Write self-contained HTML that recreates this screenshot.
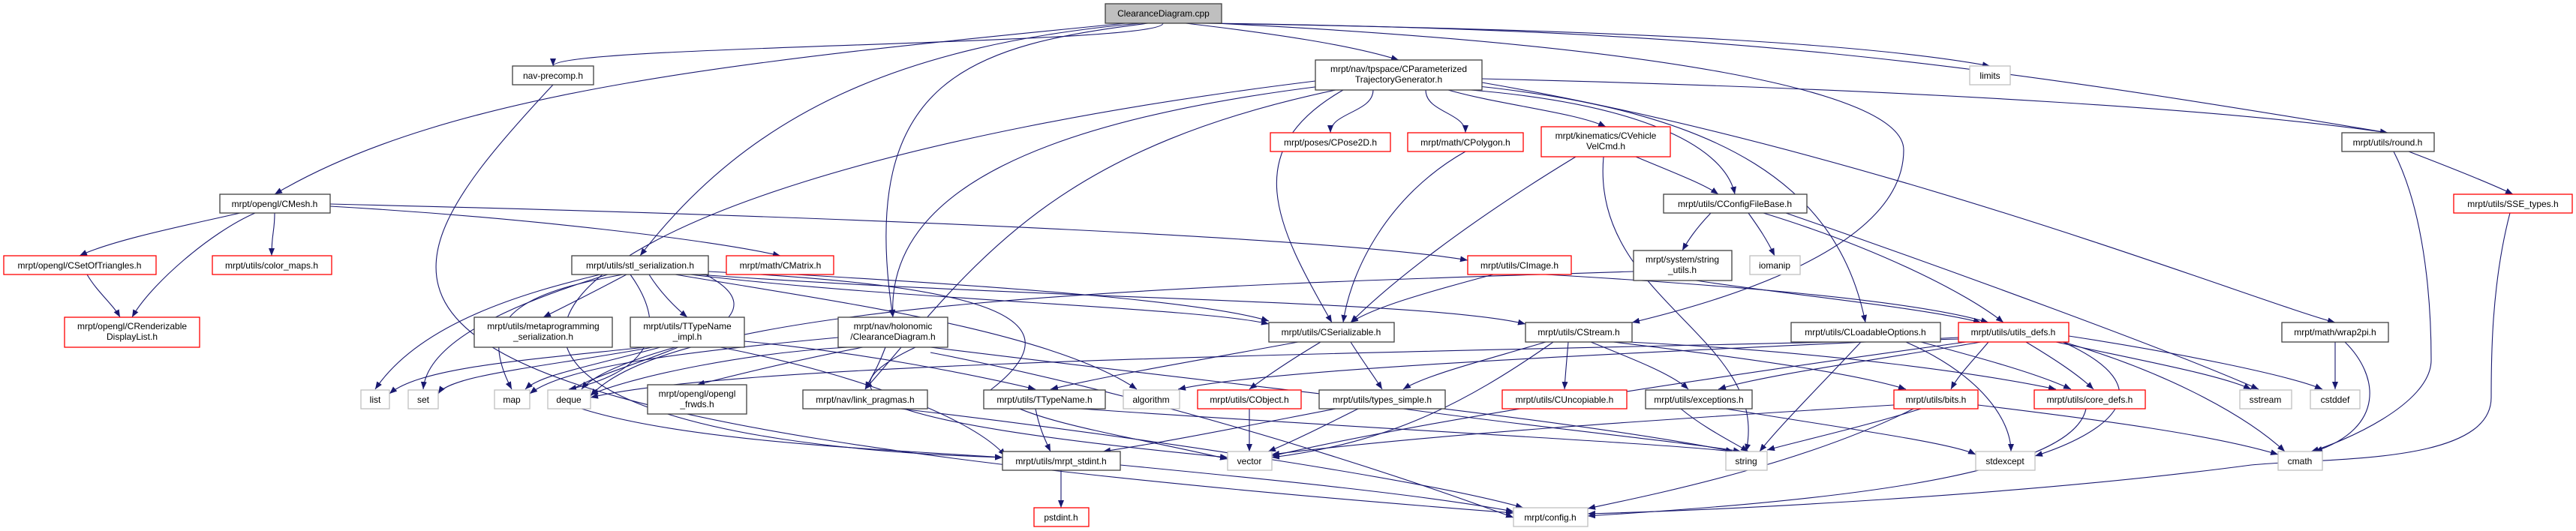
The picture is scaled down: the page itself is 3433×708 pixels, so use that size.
<!DOCTYPE html>
<html><head><meta charset="utf-8"><style>
html,body{margin:0;padding:0;background:#fff;}
svg{display:block;}
text{font-family:"Liberation Sans",Arial,sans-serif;font-size:12px;fill:#000;}
.e{fill:none;stroke:#191970;stroke-width:1.1;marker-end:url(#a);}
.b{fill:#fff;stroke:#404040;stroke-width:1.3;}
.r{fill:#fff;stroke:#ff0000;stroke-width:1.3;}
.g{fill:#fff;stroke:#bfbfbf;stroke-width:1.3;}
</style></head><body>
<svg width="3433" height="708" viewBox="0 0 3433 708" xmlns="http://www.w3.org/2000/svg">
<defs><marker id="a" markerUnits="userSpaceOnUse" markerWidth="11" markerHeight="8" refX="10" refY="4" orient="auto"><path d="M0,0 L10,4 L0,8 z" fill="#191970"/></marker></defs>
<g id="edges">
<path class="e" d="M1550 31 C1550 60,737 60,737 88"/>
<path class="e" d="M1500 31 C1000 80,600 120,366 259"/>
<path class="e" d="M1520 31 C1200 60,1000 150,853 341"/>
<path class="e" d="M1530 31 C1300 60,1140 100,1190 423"/>
<path class="e" d="M1580 31 C1700 45,1800 60,1864 80"/>
<path class="e" d="M1600 31 C2200 40,2500 60,2652 88"/>
<path class="e" d="M1610 31 C2300 40,2600 80,3182 177"/>
<path class="e" d="M1620 31 C2200 60,2537 120,2537 200 C2537 330,2300 400,2175 430"/>
<path class="e" d="M737 113 C450 420,400 560,2017 684"/>
<path class="e" d="M1753 108 C600 250,420 580,1336 610"/>
<path class="e" d="M1790 120 C1650 200,1700 300,1775 430"/>
<path class="e" d="M1830 120 C1830 150,1773 150,1773 177"/>
<path class="e" d="M1900 120 C1900 150,1953 150,1953 177"/>
<path class="e" d="M1930 120 C2000 140,2100 150,2140 169"/>
<path class="e" d="M1960 120 C2200 140,2300 200,2312 259"/>
<path class="e" d="M1975 105 C2600 120,3000 150,3182 177"/>
<path class="e" d="M1975 110 C2500 200,3000 400,3112 430"/>
<path class="e" d="M1970 115 C2300 150,2450 250,2486 430"/>
<path class="e" d="M1780 120 C1400 200,1300 350,1153 519"/>
<path class="e" d="M1760 115 C1400 160,1180 250,1190 423"/>
<path class="e" d="M320 284 C250 300,150 320,106 341"/>
<path class="e" d="M340 284 C280 310,200 380,176 423"/>
<path class="e" d="M366 284 C366 310,362 310,362 341"/>
<path class="e" d="M440 275 C700 290,950 320,1040 341"/>
<path class="e" d="M440 272 C1200 290,1800 320,1956 347"/>
<path class="e" d="M116 366 C130 390,150 405,160 423"/>
<path class="e" d="M1953 202 C1850 260,1800 360,1790 430"/>
<path class="e" d="M2100 209 C1950 300,1850 380,1800 430"/>
<path class="e" d="M2180 209 C2230 230,2270 245,2290 259"/>
<path class="e" d="M2137 209 C2120 400,2360 450,2327 602"/>
<path class="e" d="M2280 284 C2260 305,2250 320,2242 334"/>
<path class="e" d="M2330 284 C2345 305,2355 320,2365 341"/>
<path class="e" d="M2350 284 C2500 330,2620 390,2670 430"/>
<path class="e" d="M2380 284 C2600 360,2900 470,3010 519"/>
<path class="e" d="M3190 202 C3240 300,3240 450,3240 480 C3240 540,3120 590,3080 602"/>
<path class="e" d="M3210 202 C3270 225,3320 245,3349 259"/>
<path class="e" d="M3345 284 C3320 380,3320 480,3320 530 C3320 620,3100 610,3000 620 C2700 660,2300 680,2116 685"/>
<path class="e" d="M800 366 C700 390,560 430,500 519"/>
<path class="e" d="M810 366 C700 400,570 450,564 519"/>
<path class="e" d="M830 366 C700 390,630 420,682 519"/>
<path class="e" d="M840 366 C900 450,850 500,758 519"/>
<path class="e" d="M835 366 C790 390,750 410,724 423"/>
<path class="e" d="M865 366 C880 390,900 410,916 423"/>
<path class="e" d="M920 366 C1200 400,1600 410,1691 432"/>
<path class="e" d="M930 366 C1400 400,1900 400,2033 432"/>
<path class="e" d="M944 362 C1300 380,1450 420,1320 520 C1350 560,1500 580,1636 612"/>
<path class="e" d="M900 366 C1100 400,1400 440,1515 519"/>
<path class="e" d="M940 366 C1100 450,700 500,760 540 C900 590,1200 600,1336 610"/>
<path class="e" d="M1060 366 C1300 380,1600 400,1691 428"/>
<path class="e" d="M1990 366 C1900 390,1830 410,1800 430"/>
<path class="e" d="M2060 366 C2300 380,2550 400,2650 430"/>
<path class="e" d="M2260 374 C2400 395,2560 410,2640 430"/>
<path class="e" d="M2177 362 C1600 380,900 400,787 528"/>
<path class="e" d="M860 463 C700 480,560 490,519 525"/>
<path class="e" d="M870 463 C720 490,600 500,584 525"/>
<path class="e" d="M880 463 C780 490,720 500,700 519"/>
<path class="e" d="M900 463 C840 480,790 500,775 519"/>
<path class="e" d="M992 455 C1150 470,1300 500,1380 519"/>
<path class="e" d="M960 463 C1150 500,1300 560,1340 608"/>
<path class="e" d="M1130 463 C1000 470,850 500,787 526"/>
<path class="e" d="M1150 463 C1060 480,980 500,929 513"/>
<path class="e" d="M1180 463 C1170 490,1160 505,1153 519"/>
<path class="e" d="M1220 463 C1100 520,1120 560,1636 610"/>
<path class="e" d="M1117 450 C900 470,750 490,706 525"/>
<path class="e" d="M1240 463 C1700 520,2100 560,2310 602"/>
<path class="e" d="M1730 456 C1600 480,1480 500,1400 519"/>
<path class="e" d="M1760 456 C1720 480,1690 500,1665 519"/>
<path class="e" d="M1800 456 C1815 480,1830 500,1842 519"/>
<path class="e" d="M2060 456 C1980 480,1900 500,1870 519"/>
<path class="e" d="M2090 456 C2088 480,2086 500,2085 519"/>
<path class="e" d="M2120 456 C2180 480,2230 500,2250 519"/>
<path class="e" d="M2070 456 C1950 540,1850 590,1695 610"/>
<path class="e" d="M2150 456 C2350 480,2480 500,2540 519"/>
<path class="e" d="M2170 456 C2450 470,2650 500,2740 519"/>
<path class="e" d="M2480 456 C2420 520,2370 570,2345 602"/>
<path class="e" d="M2540 456 C2640 500,2680 560,2680 602"/>
<path class="e" d="M2560 456 C2650 480,2720 500,2760 519"/>
<path class="e" d="M2650 456 C2630 480,2610 500,2600 519"/>
<path class="e" d="M2700 456 C2740 480,2770 500,2790 519"/>
<path class="e" d="M2740 456 C2850 480,2960 500,3000 519"/>
<path class="e" d="M2757 448 C2900 470,3050 500,3095 519"/>
<path class="e" d="M2750 456 C2900 500,3000 560,3045 602"/>
<path class="e" d="M2740 452 C2900 520,2800 580,2712 608"/>
<path class="e" d="M2640 456 C2500 480,2350 500,2290 519"/>
<path class="e" d="M2620 456 C2300 500,1900 560,1695 608"/>
<path class="e" d="M2610 450 C2200 470,1700 490,1570 519"/>
<path class="e" d="M2612 452 C1900 470,1000 480,787 530"/>
<path class="e" d="M3112 456 C3112 480,3112 500,3112 519"/>
<path class="e" d="M3125 456 C3170 500,3180 570,3085 602"/>
<path class="e" d="M1200 545 C1500 580,1900 640,2030 677"/>
<path class="e" d="M1380 545 C1385 570,1392 585,1400 602"/>
<path class="e" d="M1440 545 C1800 570,2200 590,2310 602"/>
<path class="e" d="M1665 545 C1665 570,1665 585,1665 602"/>
<path class="e" d="M1810 545 C1760 570,1720 590,1690 602"/>
<path class="e" d="M1780 545 C1650 570,1550 590,1470 602"/>
<path class="e" d="M1870 545 C2050 570,2250 590,2320 602"/>
<path class="e" d="M2240 545 C2270 570,2310 590,2330 602"/>
<path class="e" d="M2300 545 C2450 570,2600 590,2633 606"/>
<path class="e" d="M2560 545 C2480 570,2390 590,2355 600"/>
<path class="e" d="M2550 545 C2400 620,2200 660,2116 678"/>
<path class="e" d="M2524 540 C2200 560,1900 580,1695 606"/>
<path class="e" d="M2636 540 C2800 560,2950 580,3036 606"/>
<path class="e" d="M2780 545 C2760 640,2400 670,2116 688"/>
<path class="e" d="M1414 627 C1414 650,1414 660,1414 677"/>
<path class="e" d="M1493 620 C1700 640,1900 660,2017 682"/>
<path class="e" d="M1240 470 C1500 520,1800 610,2017 690"/>
</g>
<g id="nodes">
<rect x="1473" y="5" width="155" height="26" fill="#bfbfbf" stroke="#404040" stroke-width="1.3"/><text x="1550.5" y="22" text-anchor="middle">ClearanceDiagram.cpp</text>
<rect class="b" x="683" y="88" width="108" height="25"/><text x="737" y="105" text-anchor="middle">nav-precomp.h</text>
<rect class="g" x="2625" y="88" width="54" height="25"/><text x="2652" y="105" text-anchor="middle">limits</text>
<rect class="b" x="1753" y="80" width="222" height="40"/><text x="1864" y="96" text-anchor="middle">mrpt/nav/tpspace/CParameterized</text><text x="1864" y="110" text-anchor="middle">TrajectoryGenerator.h</text>
<rect class="r" x="1693" y="177" width="160" height="25"/><text x="1773" y="194" text-anchor="middle">mrpt/poses/CPose2D.h</text>
<rect class="r" x="1876" y="177" width="154" height="25"/><text x="1953" y="194" text-anchor="middle">mrpt/math/CPolygon.h</text>
<rect class="r" x="2054" y="169" width="172" height="40"/><text x="2140" y="185" text-anchor="middle">mrpt/kinematics/CVehicle</text><text x="2140" y="199" text-anchor="middle">VelCmd.h</text>
<rect class="b" x="3121" y="177" width="123" height="25"/><text x="3182" y="194" text-anchor="middle">mrpt/utils/round.h</text>
<rect class="b" x="293" y="259" width="147" height="25"/><text x="366" y="276" text-anchor="middle">mrpt/opengl/CMesh.h</text>
<rect class="b" x="2217" y="259" width="191" height="25"/><text x="2312" y="276" text-anchor="middle">mrpt/utils/CConfigFileBase.h</text>
<rect class="r" x="3270" y="259" width="158" height="25"/><text x="3349" y="276" text-anchor="middle">mrpt/utils/SSE_types.h</text>
<rect class="r" x="5" y="341" width="203" height="25"/><text x="106" y="358" text-anchor="middle">mrpt/opengl/CSetOfTriangles.h</text>
<rect class="r" x="283" y="341" width="159" height="25"/><text x="362" y="358" text-anchor="middle">mrpt/utils/color_maps.h</text>
<rect class="b" x="762" y="341" width="182" height="25"/><text x="853" y="358" text-anchor="middle">mrpt/utils/stl_serialization.h</text>
<rect class="r" x="968" y="341" width="143" height="25"/><text x="1040" y="358" text-anchor="middle">mrpt/math/CMatrix.h</text>
<rect class="r" x="1956" y="341" width="138" height="25"/><text x="2025" y="358" text-anchor="middle">mrpt/utils/CImage.h</text>
<rect class="b" x="2177" y="334" width="131" height="40"/><text x="2242" y="350" text-anchor="middle">mrpt/system/string</text><text x="2242" y="364" text-anchor="middle">_utils.h</text>
<rect class="g" x="2332" y="341" width="67" height="25"/><text x="2365" y="358" text-anchor="middle">iomanip</text>
<rect class="r" x="86" y="423" width="180" height="40"/><text x="176" y="439" text-anchor="middle">mrpt/opengl/CRenderizable</text><text x="176" y="453" text-anchor="middle">DisplayList.h</text>
<rect class="b" x="632" y="423" width="184" height="40"/><text x="724" y="439" text-anchor="middle">mrpt/utils/metaprogramming</text><text x="724" y="453" text-anchor="middle">_serialization.h</text>
<rect class="b" x="840" y="423" width="152" height="40"/><text x="916" y="439" text-anchor="middle">mrpt/utils/TTypeName</text><text x="916" y="453" text-anchor="middle">_impl.h</text>
<rect class="b" x="1117" y="423" width="146" height="40"/><text x="1190" y="439" text-anchor="middle">mrpt/nav/holonomic</text><text x="1190" y="453" text-anchor="middle">/ClearanceDiagram.h</text>
<rect class="b" x="1691" y="430" width="167" height="26"/><text x="1774" y="447" text-anchor="middle">mrpt/utils/CSerializable.h</text>
<rect class="b" x="2033" y="430" width="142" height="26"/><text x="2104" y="447" text-anchor="middle">mrpt/utils/CStream.h</text>
<rect class="b" x="2387" y="430" width="199" height="26"/><text x="2486" y="447" text-anchor="middle">mrpt/utils/CLoadableOptions.h</text>
<rect class="r" x="2610" y="430" width="147" height="26"/><text x="2683" y="447" text-anchor="middle">mrpt/utils/utils_defs.h</text>
<rect class="b" x="3041" y="430" width="142" height="26"/><text x="3112" y="447" text-anchor="middle">mrpt/math/wrap2pi.h</text>
<rect class="g" x="481" y="520" width="38" height="25"/><text x="500" y="537" text-anchor="middle">list</text>
<rect class="g" x="544" y="520" width="40" height="25"/><text x="564" y="537" text-anchor="middle">set</text>
<rect class="g" x="659" y="520" width="47" height="25"/><text x="682" y="537" text-anchor="middle">map</text>
<rect class="g" x="730" y="520" width="57" height="25"/><text x="758" y="537" text-anchor="middle">deque</text>
<rect class="b" x="863" y="513" width="132" height="39"/><text x="929" y="529" text-anchor="middle">mrpt/opengl/opengl</text><text x="929" y="543" text-anchor="middle">_frwds.h</text>
<rect class="b" x="1070" y="520" width="166" height="25"/><text x="1153" y="537" text-anchor="middle">mrpt/nav/link_pragmas.h</text>
<rect class="b" x="1311" y="520" width="162" height="25"/><text x="1392" y="537" text-anchor="middle">mrpt/utils/TTypeName.h</text>
<rect class="g" x="1497" y="520" width="75" height="25"/><text x="1534" y="537" text-anchor="middle">algorithm</text>
<rect class="r" x="1596" y="520" width="138" height="25"/><text x="1665" y="537" text-anchor="middle">mrpt/utils/CObject.h</text>
<rect class="b" x="1758" y="520" width="168" height="25"/><text x="1842" y="537" text-anchor="middle">mrpt/utils/types_simple.h</text>
<rect class="r" x="2002" y="520" width="166" height="25"/><text x="2085" y="537" text-anchor="middle">mrpt/utils/CUncopiable.h</text>
<rect class="b" x="2193" y="520" width="142" height="25"/><text x="2264" y="537" text-anchor="middle">mrpt/utils/exceptions.h</text>
<rect class="r" x="2524" y="520" width="112" height="25"/><text x="2580" y="537" text-anchor="middle">mrpt/utils/bits.h</text>
<rect class="r" x="2711" y="520" width="148" height="25"/><text x="2785" y="537" text-anchor="middle">mrpt/utils/core_defs.h</text>
<rect class="g" x="2985" y="520" width="69" height="25"/><text x="3019" y="537" text-anchor="middle">sstream</text>
<rect class="g" x="3079" y="520" width="66" height="25"/><text x="3112" y="537" text-anchor="middle">cstddef</text>
<rect class="b" x="1336" y="602" width="157" height="25"/><text x="1414" y="619" text-anchor="middle">mrpt/utils/mrpt_stdint.h</text>
<rect class="g" x="1636" y="602" width="59" height="25"/><text x="1665" y="619" text-anchor="middle">vector</text>
<rect class="g" x="2300" y="602" width="55" height="25"/><text x="2327" y="619" text-anchor="middle">string</text>
<rect class="g" x="2633" y="602" width="79" height="25"/><text x="2672" y="619" text-anchor="middle">stdexcept</text>
<rect class="g" x="3036" y="602" width="59" height="25"/><text x="3065" y="619" text-anchor="middle">cmath</text>
<rect class="r" x="1378" y="677" width="73" height="25"/><text x="1414" y="694" text-anchor="middle">pstdint.h</text>
<rect class="g" x="2017" y="677" width="99" height="25"/><text x="2066" y="694" text-anchor="middle">mrpt/config.h</text>
</g>
</svg>
</body></html>
